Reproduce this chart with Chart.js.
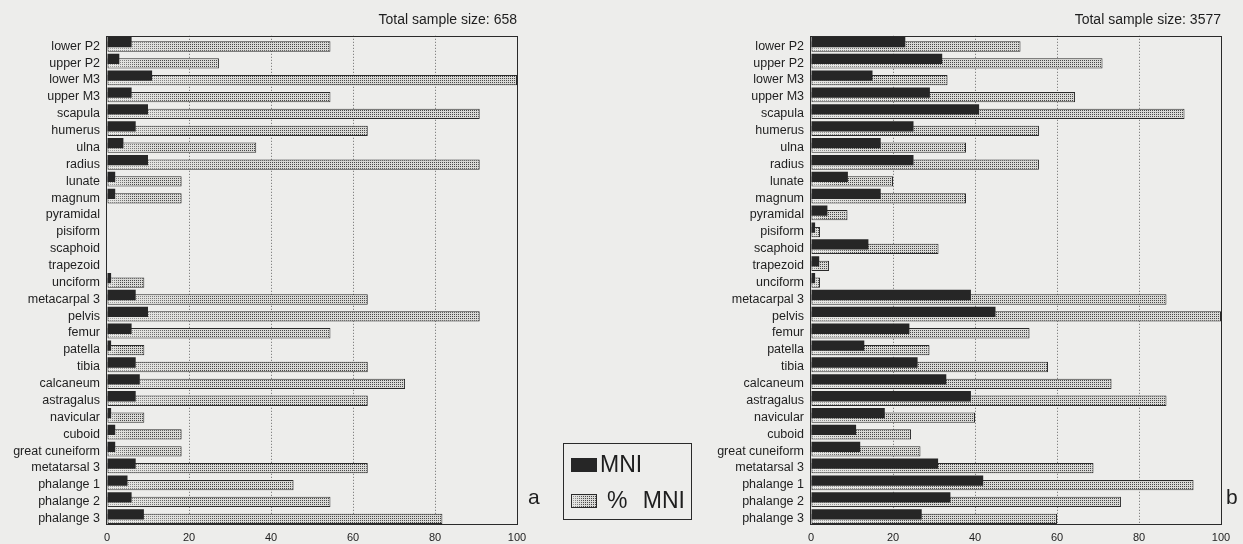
<!DOCTYPE html>
<html>
<head>
<meta charset="utf-8">
<script src="https://cdn.jsdelivr.net/npm/chart.js@4.4.1/dist/chart.umd.min.js"></script>
<style>
  html, body { margin: 0; padding: 0; background: #ededeb; }
  body { width: 1243px; height: 544px; position: relative; overflow: hidden;
         font-family: "Liberation Sans", Arial, Helvetica, sans-serif; color: #1e1e1e; }
  canvas.chart { position: absolute; top: 0; }
  #chartA { left: 0; }
  #chartB { left: 704px; }
  .panel { position: absolute; font-size: 21px; line-height: 21px; }
  #legend { position: absolute; left: 563px; top: 443px; width: 129px; height: 77px;
            border: 1px solid #2a2a2a; box-sizing: border-box; }
  #legend .sw { position: absolute; left: 7px; width: 26px; height: 14px; box-sizing: border-box; }
  #legend .txt { position: absolute; font-size: 23px; line-height: 23px; white-space: pre; }
</style>
</head>
<body>
<canvas id="chartA" class="chart" width="535" height="544"></canvas>
<canvas id="chartB" class="chart" width="535" height="544"></canvas>
<div class="panel" style="left:528px; top:486px;">a</div>
<div class="panel" style="left:1226px; top:486px;">b</div>
<div id="legend">
  <div class="sw" style="top:14px; background:#262626;"></div>
  <div class="txt" style="left:36px; top:9px;">MNI</div>
  <canvas class="sw" id="swatch" width="26" height="14" style="top:50px;"></canvas>
  <div class="txt" style="left:43px; top:45px; word-spacing:9px;">% MNI</div>
</div>
<script>
// Skeletal elements, top to bottom
const elements = [
  'lower P2', 'upper P2', 'lower M3', 'upper M3', 'scapula', 'humerus', 'ulna', 'radius',
  'lunate', 'magnum', 'pyramidal', 'pisiform', 'scaphoid', 'trapezoid', 'unciform',
  'metacarpal 3', 'pelvis', 'femur', 'patella', 'tibia', 'calcaneum', 'astragalus',
  'navicular', 'cuboid', 'great cuneiform', 'metatarsal 3', 'phalange 1', 'phalange 2', 'phalange 3'
];

// Assemblage a (total sample size 658)
const mniA = [6, 3, 11, 6, 10, 7, 4, 10, 2, 2, 0, 0, 0, 0, 1, 7, 10, 6, 1, 7, 8, 7, 1, 2, 2, 7, 5, 6, 9];
const pctMniA = [54.5, 27.3, 100, 54.5, 90.9, 63.6, 36.4, 90.9, 18.2, 18.2, 0, 0, 0, 0, 9.1,
                 63.6, 90.9, 54.5, 9.1, 63.6, 72.7, 63.6, 9.1, 18.2, 18.2, 63.6, 45.5, 54.5, 81.8];

// Assemblage b (total sample size 3577)
const mniB = [23, 32, 15, 29, 41, 25, 17, 25, 9, 17, 4, 1, 14, 2, 1, 39, 45, 24, 13, 26, 33, 39, 18, 11, 12, 31, 42, 34, 27];
const pctMniB = [51.1, 71.1, 33.3, 64.4, 91.1, 55.6, 37.8, 55.6, 20.0, 37.8, 8.9, 2.2, 31.1, 4.4, 2.2,
                 86.7, 100, 53.3, 28.9, 57.8, 73.3, 86.7, 40.0, 24.4, 26.7, 68.9, 93.3, 75.6, 60.0];

const xTicks = [0, 20, 40, 60, 80, 100];
const titleA = 'Total sample size: 658';
const titleB = 'Total sample size: 3577';

const FONT = '"Liberation Sans", Arial, Helvetica, sans-serif';
const INK = '#1e1e1e';

// Fine stipple used for the % MNI bars
function makeStipple(ctx) {
  const c = document.createElement('canvas');
  c.width = 2; c.height = 2;
  const g = c.getContext('2d');
  g.fillStyle = '#d9d9d6'; g.fillRect(0, 0, 2, 2);
  g.fillStyle = '#474747'; g.fillRect(0, 0, 1, 1);
  return ctx.createPattern(c, 'repeat');
}

// Lighter shading at the start of each stippled bar
const shading = {
  id: 'shading',
  afterDatasetDraw(chart, args) {
    if (args.index !== 1) return;
    const ctx = chart.ctx;
    ctx.save();
    args.meta.data.forEach(bar => {
      const p = bar.getProps(['x', 'y', 'base', 'height'], true);
      const w = p.x - p.base;
      if (w < 4) return;
      const x0 = p.base + 1, x1 = p.base + Math.max(8, w * 0.35);
      const g = ctx.createLinearGradient(x0, 0, x1, 0);
      g.addColorStop(0, 'rgba(245,245,243,0.55)');
      g.addColorStop(1, 'rgba(245,245,243,0)');
      ctx.fillStyle = g;
      ctx.fillRect(x0, p.y - p.height / 2 + 1, x1 - x0, p.height - 2);
    });
    ctx.restore();
  }
};

// Solid frame around the plot area
const frame = {
  id: 'frame',
  afterDatasetsDraw(chart) {
    const a = chart.chartArea, ctx = chart.ctx;
    ctx.save();
    ctx.strokeStyle = '#2a2a2a';
    ctx.lineWidth = 1;
    ctx.strokeRect(Math.round(a.left) - 0.5, Math.round(a.top) + 0.5,
                   Math.round(a.right - a.left) + 1, Math.round(a.bottom - a.top) - 1);
    ctx.restore();
  }
};

function build(canvasId, title, mni, pct) {
  const canvas = document.getElementById(canvasId);
  const ctx = canvas.getContext('2d');
  const stipple = makeStipple(ctx);
  return new Chart(ctx, {
    type: 'bar',
    data: {
      labels: elements,
      datasets: [
        { label: 'MNI', data: mni, backgroundColor: '#262626', borderWidth: 0,
          categoryPercentage: 0.533, barPercentage: 2.29 },
        { label: '% MNI', data: pct, backgroundColor: stipple, borderColor: '#2a2a2a',
          borderWidth: 1, borderSkipped: false, categoryPercentage: 0.533, barPercentage: 2.29 }
      ]
    },
    options: {
      indexAxis: 'y',
      responsive: false,
      animation: false,
      events: [],
      layout: { padding: { left: 0, right: 18, top: 0, bottom: 0 } },
      plugins: {
        legend: { display: false },
        tooltip: { enabled: false },
        title: {
          display: true, text: title, align: 'end', fullSize: false, color: INK,
          font: { family: FONT, size: 14, weight: 'normal' },
          padding: { top: 12, bottom: 7 }
        }
      },
      scales: {
        x: {
          min: 0, max: 100,
          afterBuildTicks: s => { s.ticks = xTicks.map(v => ({ value: v })); },
          afterFit: s => { s.height = 19; },
          grid: {
            drawTicks: false, lineWidth: 1,
            color: c => (c.tick && (c.tick.value === 0 || c.tick.value === 100)) ? 'rgba(0,0,0,0)' : '#6a6a6a',
            borderDash: [1, 2]
          },
          border: { display: false, dash: [1, 2] },
          ticks: { color: INK, padding: 6, font: { family: FONT, size: 11 } }
        },
        y: {
          afterFit: s => { s.width = 107; },
          grid: { display: false, drawTicks: false },
          border: { display: false },
          ticks: { color: INK, padding: 7, autoSkip: false, labelOffset: 2,
                   font: { family: FONT, size: 12.5 } }
        }
      }
    },
    plugins: [shading, frame]
  });
}

build('chartA', titleA, mniA, pctMniA);
build('chartB', titleB, mniB, pctMniB);

// Legend swatch for % MNI
(function () {
  const sw = document.getElementById('swatch');
  const g = sw.getContext('2d');
  g.fillStyle = makeStipple(g);
  g.fillRect(0, 0, 26, 14);
  const gr = g.createLinearGradient(1, 0, 13, 0);
  gr.addColorStop(0, 'rgba(245,245,243,0.55)');
  gr.addColorStop(1, 'rgba(245,245,243,0)');
  g.fillStyle = gr;
  g.fillRect(1, 1, 12, 12);
  g.strokeStyle = '#2a2a2a';
  g.lineWidth = 1;
  g.strokeRect(0.5, 0.5, 25, 13);
})();
</script>
</body>
</html>
